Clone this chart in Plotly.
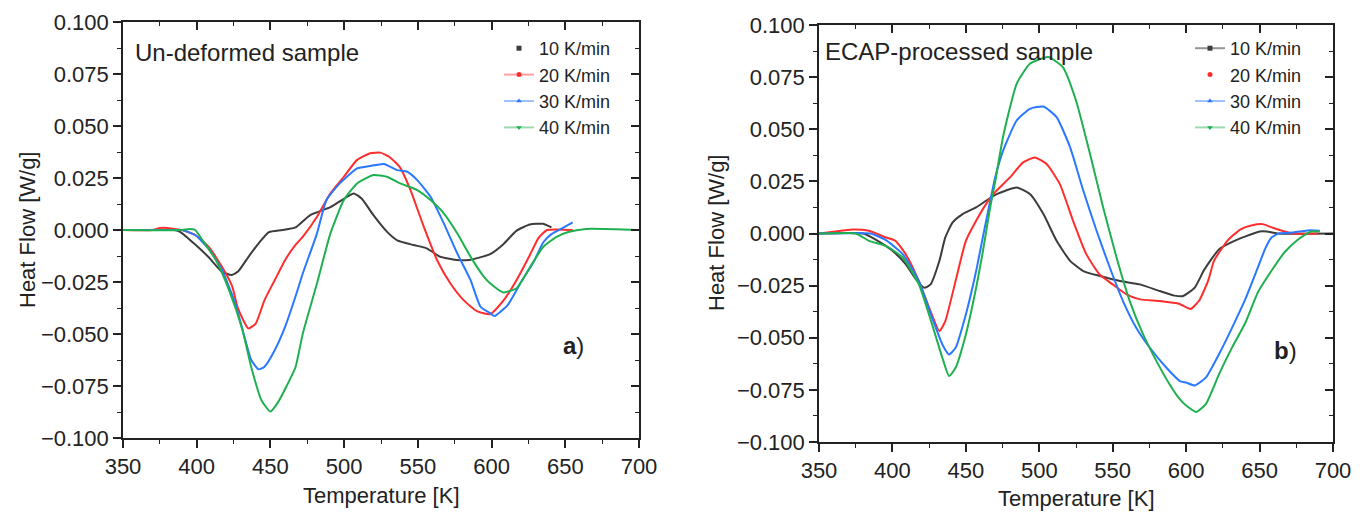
import plotly.graph_objects as go

# ---------------- data: panel a) un-deformed ----------------
T10a = [370, 385, 389, 399, 408, 417, 423.7, 428, 435, 442, 449, 458, 467, 477, 490.7, 499.8, 506.6, 512, 520, 529, 536, 547, 556, 565, 576, 585, 594, 599, 608, 617, 626, 634.7, 640.6]
V10a = [0, 0, -0.001, -0.007, -0.013, -0.020, -0.0216, -0.020, -0.013, -0.0064, -0.001, 0, 0.0013, 0.0072, 0.011, 0.015, 0.0176, 0.015, 0.007, -0.0008, -0.005, -0.0072, -0.0088, -0.0128, -0.0144, -0.0144, -0.0128, -0.0116, -0.0068, -0.0003, 0.0026, 0.003, 0.0013]

T20a = [350, 370, 375, 380, 385, 390, 399, 408, 417, 424, 428, 435, 440, 446, 453, 460, 467, 472, 481.6, 490.7, 499.8, 508.8, 517.8, 524.6, 531, 538, 545, 554, 563, 572, 581, 590, 599, 608, 617, 626, 631.7, 637.6, 655]
V20a = [0, 0, 0.001, 0.001, 0.0005, 0, -0.0024, -0.008, -0.0176, -0.027, -0.0377, -0.0473, -0.045, -0.0337, -0.024, -0.0144, -0.0072, -0.0032, 0.0064, 0.0176, 0.0256, 0.0337, 0.0369, 0.0372, 0.035, 0.030, 0.0192, 0.0016, -0.0144, -0.0256, -0.0337, -0.039, -0.0405, -0.034, -0.024, -0.012, -0.004, 0, 0]

T30a = [350, 385, 390, 399, 408, 417, 426, 433, 437, 442, 446, 453, 460, 467, 472, 481.6, 488, 497, 508.8, 517.8, 527, 536, 542.8, 549.6, 558.6, 567.6, 576.7, 585.7, 592.5, 599, 602, 611, 620, 628.8, 635, 640.6, 649, 655]
V30a = [0, 0, 0, -0.0024, -0.009, -0.019, -0.035, -0.053, -0.0625, -0.067, -0.0657, -0.0577, -0.0465, -0.032, -0.0208, -0.0016, 0.0144, 0.0224, 0.0296, 0.0308, 0.0317, 0.0288, 0.028, 0.024, 0.016, 0.0032, -0.0112, -0.024, -0.0369, -0.040, -0.0414, -0.036, -0.025, -0.015, -0.006, -0.002, 0.0013, 0.0037]

T40a = [350, 390, 395, 399, 404, 413, 422, 431, 437, 444, 450, 455, 461, 467, 472, 481.6, 490.7, 499.8, 508.8, 520, 529, 538, 549.6, 558.6, 567.6, 576.7, 585.7, 594.7, 599, 608, 617, 626, 634.7, 643.5, 652, 664, 700]
V40a = [0, 0, 0.0005, 0, -0.005, -0.0144, -0.029, -0.048, -0.066, -0.082, -0.0873, -0.083, -0.075, -0.066, -0.0497, -0.0256, -0.0016, 0.0144, 0.0224, 0.0264, 0.0256, 0.0224, 0.0192, 0.0144, 0.008, -0.0016, -0.0128, -0.0224, -0.0256, -0.030, -0.028, -0.018, -0.0084, -0.0035, -0.001, 0.0005, 0]

# ---------------- data: panel b) ECAP-processed ----------------
T10b = [350, 380, 388, 400, 409, 416, 421.7, 426, 432, 436, 441, 447.8, 456.9, 463.7, 471, 484.6, 493.6, 502.8, 511.8, 521, 530, 541.3, 555, 568.5, 582, 592, 598, 606, 612, 616.5, 622.5, 631.4, 640, 650, 655, 662, 700]
V10b = [0, 0, -0.0027, -0.0083, -0.0147, -0.022, -0.026, -0.0244, -0.0131, -0.0019, 0.0053, 0.0093, 0.0125, 0.0157, 0.0189, 0.0221, 0.0189, 0.0093, -0.0035, -0.0131, -0.018, -0.0204, -0.0228, -0.0244, -0.0276, -0.0298, -0.030, -0.0258, -0.0178, -0.013, -0.0075, -0.004, -0.0015, 0.001, 0.001, 0, 0]

T20b = [350, 361, 373, 384, 395.6, 402, 409, 418, 425, 432, 436, 443, 450, 457, 463.7, 468.7, 480, 489, 497, 505, 514, 523, 532, 541, 550, 559.4, 568.5, 582, 595.6, 603, 609, 615, 619, 624, 628, 637, 645, 652, 660, 667, 673, 690]
V20b = [0, 0.001, 0.0019, 0.0013, -0.0019, -0.0035, -0.0099, -0.0228, -0.0356, -0.0468, -0.042, -0.0228, -0.0035, 0.0061, 0.0141, 0.0189, 0.0269, 0.0341, 0.0365, 0.0333, 0.0237, 0.0061, -0.0099, -0.0196, -0.0244, -0.0292, -0.0316, -0.0324, -0.0338, -0.0362, -0.032, -0.0226, -0.013, -0.0075, -0.0035, 0.002, 0.004, 0.0045, 0.0025, 0.001, 0, 0]

T30b = [350, 385, 395.6, 407, 418, 427, 434, 438.6, 443, 450, 457, 461.5, 466.4, 470, 475.5, 484.6, 493.6, 502.8, 511.8, 521, 530, 539, 548, 557, 566, 575.3, 586.6, 595.8, 600, 606, 613.5, 622.5, 631.4, 640, 649, 654, 658, 663, 673, 685, 691]
V30b = [0, 0, -0.0032, -0.0099, -0.0228, -0.0404, -0.0532, -0.058, -0.0548, -0.0388, -0.018, -0.002, 0.015, 0.027, 0.040, 0.0542, 0.0598, 0.0609, 0.0558, 0.0413, 0.0205, 0.0013, -0.0163, -0.0324, -0.0452, -0.0548, -0.0644, -0.0708, -0.0715, -0.0729, -0.069, -0.0577, -0.045, -0.032, -0.016, -0.007, -0.002, 0, 0.0005, 0.0016, 0.0013]

T40b = [350, 375, 384, 395.6, 407, 418, 427, 434, 438.6, 443, 450, 457, 461.5, 466.4, 470, 475.5, 484.6, 493.6, 506, 516, 525, 534, 543.5, 552.6, 561.6, 570.7, 579.8, 588.8, 595.8, 600, 607, 613.5, 622.5, 631.4, 640, 649, 658, 667, 676, 685, 691]
V40b = [0, 0, -0.0035, -0.006, -0.0115, -0.0244, -0.0436, -0.0596, -0.0684, -0.0644, -0.0484, -0.026, -0.009, 0.012, 0.025, 0.047, 0.0718, 0.0814, 0.0846, 0.0798, 0.0638, 0.0397, 0.0125, -0.0115, -0.0324, -0.0484, -0.0612, -0.0724, -0.0796, -0.0825, -0.0856, -0.0817, -0.0673, -0.0545, -0.0433, -0.028, -0.018, -0.009, -0.003, 0.001, 0.001]

series_names = ["10 K/min", "20 K/min", "30 K/min", "40 K/min"]
x_ticks = [350, 400, 450, 500, 550, 600, 650, 700]
y_ticks = [0.100, 0.075, 0.050, 0.025, 0.000, -0.025, -0.050, -0.075, -0.100]

colors = ["#3c3c3c", "#ff2e2e", "#2a78ff", "#1fb04f"]
light = ["rgba(60,60,60,0.55)", "rgba(255,46,46,0.45)", "rgba(42,120,255,0.45)", "rgba(31,176,79,0.45)"]
symbols = ["square", "circle", "triangle-up", "triangle-down"]

FONT = "Liberation Sans, Arial, sans-serif"
# the page body has an 8 px margin: the figure is drawn 8 px smaller and
# every screen position below is converted with that offset
OFF = 8
W, H = 1367 - OFF, 519 - OFF


def px(X):
    return (X - OFF) / W


def py(Y):
    return 1 - (Y - OFF) / H


fig = go.Figure()

panel_a = [(T10a, V10a), (T20a, V20a), (T30a, V30a), (T40a, V40a)]
panel_b = [(T10b, V10b), (T20b, V20b), (T30b, V30b), (T40b, V40b)]

for (xs, ys), c in zip(panel_a, colors):
    fig.add_trace(go.Scatter(x=xs, y=ys, mode="lines",
                             line=dict(color=c, width=2, shape="spline", smoothing=0.5),
                             xaxis="x", yaxis="y", showlegend=False, hoverinfo="skip"))
for (xs, ys), c in zip(panel_b, colors):
    fig.add_trace(go.Scatter(x=xs, y=ys, mode="lines",
                             line=dict(color=c, width=2, shape="spline", smoothing=0.5),
                             xaxis="x2", yaxis="y2", showlegend=False, hoverinfo="skip"))

# legend entries
modes_a = ["markers", "lines+markers", "lines+markers", "lines+markers"]
modes_b = ["lines+markers", "markers", "lines+markers", "lines+markers"]
for i, name in enumerate(series_names):
    fig.add_trace(go.Scatter(x=[None], y=[None], mode=modes_a[i], name=name,
                             line=dict(color=light[i], width=2),
                             marker=dict(color=colors[i], symbol=symbols[i], size=5),
                             xaxis="x", yaxis="y", legend="legend"))
for i, name in enumerate(series_names):
    fig.add_trace(go.Scatter(x=[None], y=[None], mode=modes_b[i], name=name,
                             line=dict(color=light[i], width=2),
                             marker=dict(color=colors[i], symbol=symbols[i], size=5),
                             xaxis="x2", yaxis="y2", legend="legend2"))

# dummy traces to activate overlay axes (top / right inward ticks)
for xa, ya in [("x3", "y"), ("x", "y3"), ("x4", "y2"), ("x2", "y4")]:
    fig.add_trace(go.Scatter(x=[None], y=[None], xaxis=xa, yaxis=ya, showlegend=False, hoverinfo="skip"))

xdom_a = [px(123), px(639)]
xdom_b = [px(819), px(1333)]
ydom_a = [py(438), py(22)]
ydom_b = [py(442), py(25)]

tickfont = dict(family=FONT, size=22, color="#222")
axcommon = dict(showgrid=False, zeroline=False, showline=True, linecolor="#222", linewidth=1.6,
                ticks="outside", ticklen=8, tickwidth=1.6, tickcolor="#222", tickfont=tickfont,
                automargin=False)
xcommon = dict(axcommon, range=[350, 700], tickvals=x_ticks, mirror=True,
               minor=dict(ticks="outside", ticklen=4, tickwidth=1.4, tickcolor="#222", dtick=25, tick0=350))
ycommon = dict(axcommon, range=[-0.1, 0.1], tickvals=y_ticks, tickformat=".3f", mirror=True,
               minor=dict(ticks="outside", ticklen=4, tickwidth=1.4, tickcolor="#222", dtick=0.0125, tick0=0))
xin = dict(showgrid=False, zeroline=False, showline=False, range=[350, 700], tickvals=x_ticks,
           ticks="inside", ticklen=8, tickwidth=1.6, tickcolor="#222", showticklabels=False, side="top",
           automargin=False,
           minor=dict(ticks="inside", ticklen=4, tickwidth=1.4, tickcolor="#222", dtick=25, tick0=350))
yin = dict(showgrid=False, zeroline=False, showline=False, range=[-0.1, 0.1], tickvals=y_ticks,
           ticks="inside", ticklen=8, tickwidth=1.6, tickcolor="#222", showticklabels=False, side="right",
           automargin=False,
           minor=dict(ticks="inside", ticklen=4, tickwidth=1.4, tickcolor="#222", dtick=0.0125, tick0=0))

legfont = dict(family=FONT, size=18, color="#222")
fig.update_layout(
    template="none",
    width=W, height=H,
    margin=dict(l=0, r=0, t=0, b=0, pad=0, autoexpand=False),
    paper_bgcolor="white", plot_bgcolor="white",
    font=dict(family=FONT, color="#222"),
    xaxis=dict(xcommon, domain=xdom_a, anchor="y"),
    yaxis=dict(ycommon, domain=ydom_a, anchor="x"),
    xaxis2=dict(xcommon, domain=xdom_b, anchor="y2"),
    yaxis2=dict(ycommon, domain=ydom_b, anchor="x2"),
    xaxis3=dict(xin, overlaying="x", anchor="y"),
    yaxis3=dict(yin, overlaying="y", anchor="x"),
    xaxis4=dict(xin, overlaying="x2", anchor="y2"),
    yaxis4=dict(yin, overlaying="y2", anchor="x2"),
    legend=dict(x=px(499), y=py(30), xanchor="left", yanchor="top", bgcolor="rgba(0,0,0,0)",
                borderwidth=0, font=legfont, itemwidth=30, tracegroupgap=0),
    legend2=dict(x=px(1190), y=py(30), xanchor="left", yanchor="top", bgcolor="rgba(0,0,0,0)",
                 borderwidth=0, font=legfont, itemwidth=30, tracegroupgap=0),
    showlegend=True,
)

ann_font = dict(family=FONT, size=24, color="#222")
title_font = dict(family=FONT, size=22, color="#222")
annotations = [
    dict(text="Un-deformed sample", x=px(133), y=py(53), xanchor="left", yanchor="middle", font=ann_font),
    dict(text="ECAP-processed sample", x=px(823), y=py(51), xanchor="left", yanchor="middle", font=ann_font),
    dict(text="<b>a</b>)", x=px(573), y=py(345), xanchor="center", yanchor="middle", font=ann_font),
    dict(text="<b>b</b>)", x=px(1285), y=py(350), xanchor="center", yanchor="middle", font=ann_font),
    dict(text="Temperature [K]", x=px(381), y=py(495), xanchor="center", yanchor="middle", font=title_font),
    dict(text="Temperature [K]", x=px(1076), y=py(498), xanchor="center", yanchor="middle", font=title_font),
    dict(text="Heat Flow [W/g]", x=px(27), y=py(230), xanchor="center", yanchor="middle", textangle=-90, font=title_font),
    dict(text="Heat Flow [W/g]", x=px(717), y=py(233), xanchor="center", yanchor="middle", textangle=-90, font=title_font),
]
for a in annotations:
    fig.add_annotation(xref="paper", yref="paper", showarrow=False, **a)

fig.write_html("out.html")
